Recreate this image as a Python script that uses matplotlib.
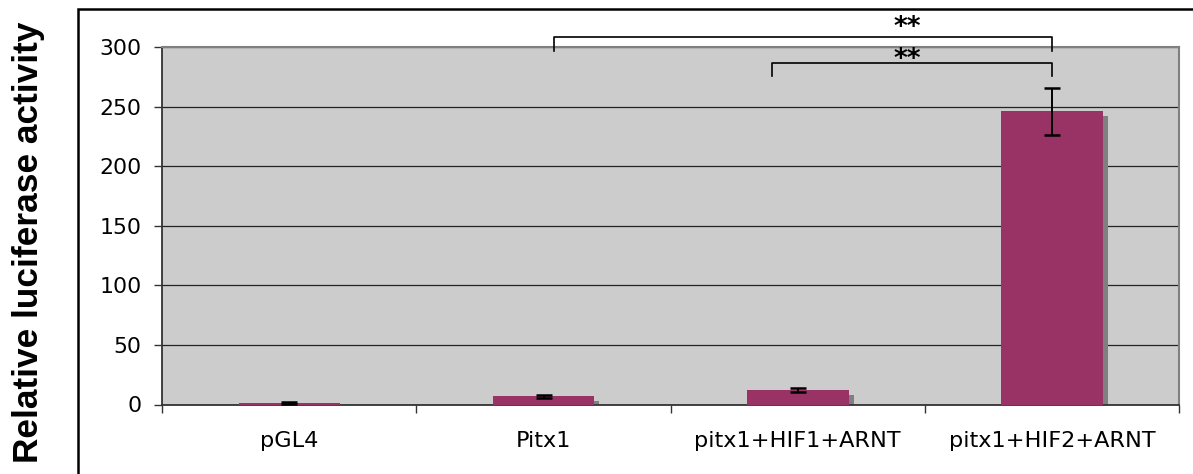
import matplotlib
matplotlib.use("Agg")
import matplotlib.pyplot as plt
from matplotlib.patches import Rectangle
from matplotlib.transforms import ScaledTranslation

# Luciferase reporter assay
categories = ["pGL4", "Pitx1", "pitx1+HIF1+ARNT", "pitx1+HIF2+ARNT"]
means = [1.0, 7.0, 12.5, 246.0]
errors = [0.8, 1.2, 1.6, 20.0]
yticks = [0, 50, 100, 150, 200, 250, 300]
# significance comparisons: (left group, right group, label)
comparisons = [(1, 3, "**"), (2, 3, "**")]

W, H, DPI = 1193, 474, 100
fig = plt.figure(figsize=(W / DPI, H / DPI), dpi=DPI)
fig.patch.set_facecolor("white")

L, R, T, B = 162.3, 1179.0, 47.0, 404.5
ax = fig.add_axes([L / W, 1 - B / H, (R - L) / W, (B - T) / H])
ax.set_facecolor("#CCCCCC")

x = list(range(len(categories)))
bw = 0.40

# drop shadow behind the bars
shadow_tr = ax.transData + ScaledTranslation(5 / DPI, -5 / DPI, fig.dpi_scale_trans)
ax.bar(x, means, width=bw, color="#808080", transform=shadow_tr, zorder=2)
ax.bar(x, means, width=bw, color="#993366", zorder=3)
ax.errorbar(x, means, yerr=errors, fmt="none", ecolor="black",
            elinewidth=1.4, capsize=5.8, capthick=1.8, zorder=4)

ax.set_xlim(-0.5, len(categories) - 0.5)
ax.set_ylim(0, 300)
ax.set_yticks(yticks)
ax.yaxis.grid(True, color="#222222", linewidth=0.9)
ax.set_axisbelow(True)

# category boundaries carry the x ticks, labels sit in the middle
ax.set_xticks([i + 0.5 for i in range(-1, len(categories))])
ax.set_xticklabels([])
ax.set_xticks(x, minor=True)
ax.set_xticklabels(categories, minor=True)
ax.tick_params(axis="x", which="major", direction="out", length=6,
               width=1.0, color="#333333")
ax.tick_params(axis="x", which="minor", length=0, pad=19, labelsize=16.1)
ax.tick_params(axis="y", direction="out", length=6, width=1.0,
               color="#333333", pad=9, labelsize=15.8)

for side in ("left", "bottom"):
    ax.spines[side].set_color("#333333")
    ax.spines[side].set_linewidth(1.3)
for side in ("top", "right"):
    ax.spines[side].set_color("#808080")
    ax.spines[side].set_linewidth(1.5)

# significance brackets
bracket_spec = [(0.04, 0.0, 308.4, 296.6, 316.0), (-0.10, 0.0, 286.6, 275.7, 289.0)]
for (i, j, label), (dl, dr, top, bot, ty) in zip(comparisons, bracket_spec):
    xl, xr = i + dl, j + dr
    ax.plot([xl, xl, xr, xr], [bot, top, top, bot], color="black",
            linewidth=1.2, clip_on=False, zorder=5)
    ax.text(2.43, ty, label, ha="center", va="center", fontsize=19,
            fontweight="bold", color="black", zorder=6)

fig.text(29.0 / W, 1 - 242.5 / H, "Relative luciferase activity",
         rotation=90, ha="center", va="center", fontsize=25.4,
         fontweight="bold", family="Liberation Sans")

# outer frame of the chart area
fig.patches.append(Rectangle((78 / W, -0.1), 1.2, 1 - 9 / H + 0.1,
                             transform=fig.transFigure, fill=False,
                             edgecolor="black", linewidth=1.8))

fig.savefig("out.png", dpi=DPI)
